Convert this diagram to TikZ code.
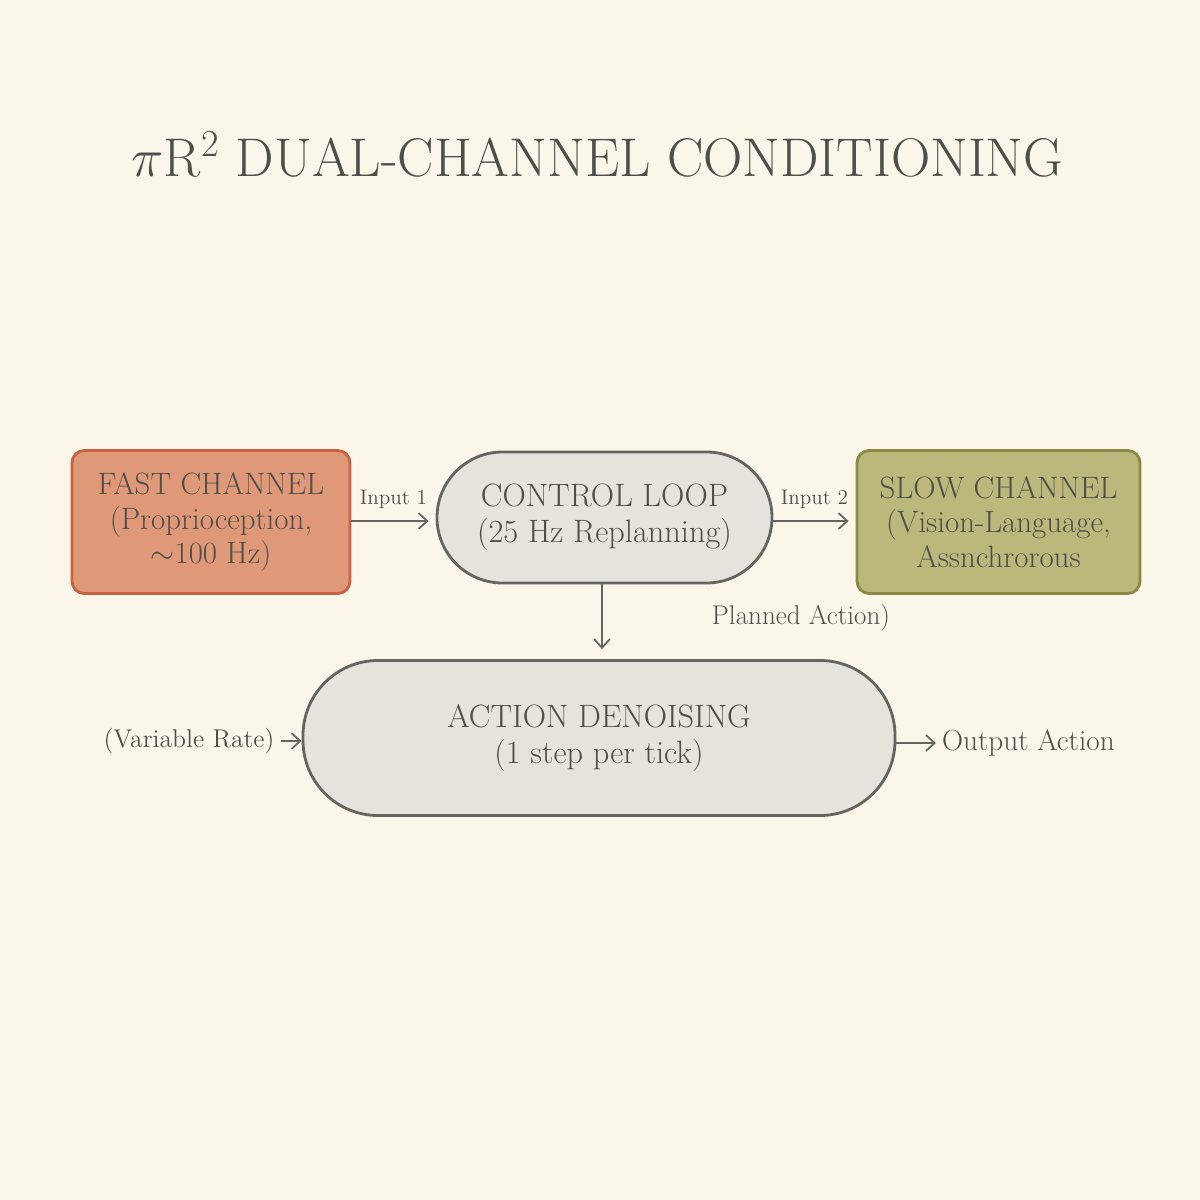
\RequirePackage{fix-cm}
\documentclass[tikz,border=0pt]{standalone}
\usepackage{xcolor}
\usetikzlibrary{positioning,arrows.meta,calc}

\definecolor{bgcream}{RGB}{250,247,234}
\definecolor{textgrey}{RGB}{80,78,74}
\definecolor{edgegrey}{RGB}{102,100,96}
\definecolor{fastfill}{RGB}{223,153,121}
\definecolor{fastedge}{RGB}{201,98,66}
\definecolor{slowfill}{RGB}{186,184,122}
\definecolor{slowedge}{RGB}{138,138,68}
\definecolor{loopfill}{RGB}{229,227,220}

\tikzset{
  chanbox/.style={draw, line width=1.6pt, rounded corners=7pt, minimum width=5.56cm,
    minimum height=2.86cm, align=center, text=textgrey,
    font=\fontsize{17.6}{19.5}\selectfont},
  pillbox/.style={draw=edgegrey, fill=loopfill, line width=1.6pt, align=center,
    text=textgrey, font=\fontsize{18.4}{20.5}\selectfont},
  flowlabel/.style={text=textgrey, font=\fontsize{12}{14}\selectfont},
  sidelabel/.style={text=textgrey, font=\fontsize{14.6}{16}\selectfont},
  flowarrow/.style={-{Straight Barb[length=5pt,width=9pt]}, draw=edgegrey, line width=1pt}
}

\begin{document}
\begin{tikzpicture}
    % Canvas
    \fill[bgcream] (0,0) rectangle (24,-24);
    \useasboundingbox (0,0) rectangle (24,-24);

    % Title
    \node[text=textgrey, font=\fontsize{31}{36}\selectfont] (title) at (11.95,-3.1)
        {$\pi$R$^2$ DUAL-CHANNEL CONDITIONING};

    % Channels and control loop
    \node[chanbox, draw=fastedge, fill=fastfill] (fast) at (4.22,-10.44)
        {FAST CHANNEL\\(Proprioception,\\$\sim$100 Hz)};
    \node[pillbox, minimum width=6.7cm, minimum height=2.62cm, rounded corners=1.31cm]
        (loop) at (12.09,-10.35) {CONTROL LOOP\\(25 Hz Replanning)};
    \node[chanbox, draw=slowedge, fill=slowfill, minimum width=5.66cm] (slow) at (19.97,-10.44)
        {SLOW CHANNEL\\(Vision-Language,\\Assnchrorous};

    % Denoising
    \node[pillbox, minimum width=11.84cm, minimum height=3.1cm, rounded corners=1.5cm]
        (denoise) at (11.98,-14.76) {ACTION DENOISING\\(1 step per tick)};

    % Side texts
    \node[sidelabel] (rate) at (3.78,-14.82) {(Variable Rate)};
    \node[sidelabel, font=\fontsize{16.6}{18}\selectfont, anchor=west] (output) at (18.72,-14.86) {Output Action};
    \node[sidelabel, font=\fontsize{15.4}{17}\selectfont] (planned) at (16.02,-12.36) {Planned Action)};

    % Connectors
    \draw[flowarrow, shorten >=0.14cm] (fast.east |- 0,-10.42) -- (loop.west |- 0,-10.42)
        node[flowlabel, midway, above=3pt] (in1) {Input 1};
    \draw[flowarrow, shorten >=0.14cm] (loop.east |- 0,-10.42) -- (slow.west |- 0,-10.42)
        node[flowlabel, midway, above=3pt] (in2) {Input 2};
    \draw[flowarrow, shorten >=0.2cm] (loop.south -| 12.04,0) -- (denoise.north -| 12.04,0);
    \draw[flowarrow] (rate.east) -- (denoise.west |- rate.east);
    \draw[flowarrow] (denoise.east |- output.west) -- (output.west);
\end{tikzpicture}
\end{document}
